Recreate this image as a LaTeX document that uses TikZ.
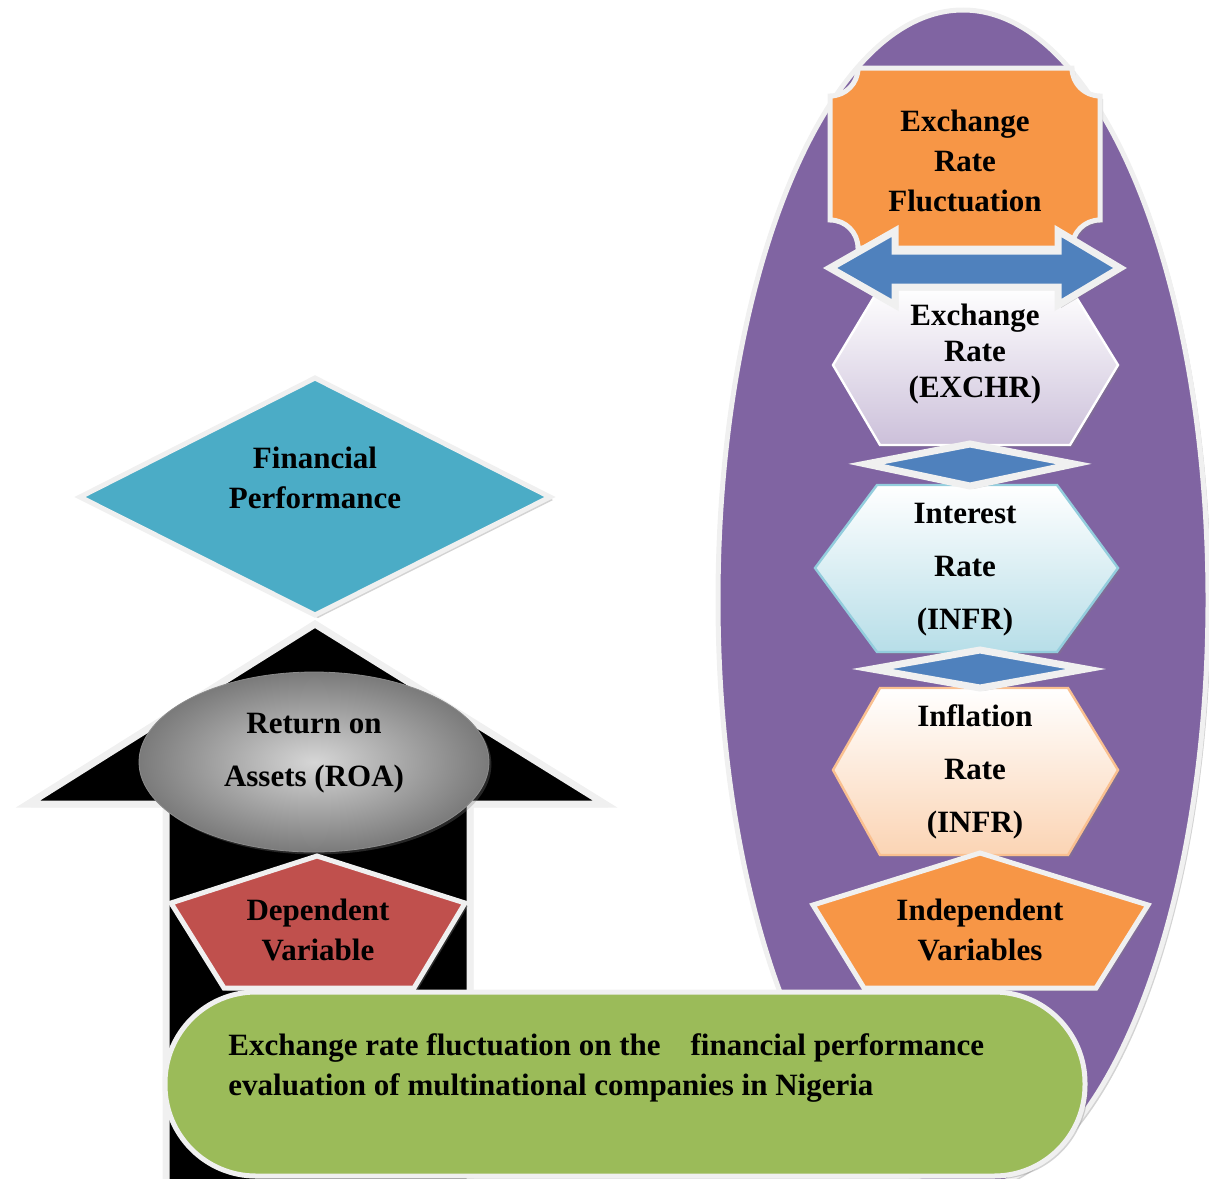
\documentclass[tikz,border=0pt]{standalone}
\usepackage{fontspec}
\setmainfont{Liberation Serif}
\usepackage{tikz}
\usetikzlibrary{shadows}
\definecolor{ovalPurple}{HTML}{8064A2}
\definecolor{fpBlue}{HTML}{4BACC6}
\definecolor{depRed}{HTML}{C0504D}
\definecolor{indOrange}{HTML}{F79646}
\definecolor{linkBlue}{HTML}{4F81BD}
\definecolor{topicGreen}{HTML}{9BBB59}
\definecolor{excLilac}{HTML}{CCC0DA}
\definecolor{intCyan}{HTML}{B7DEE8}
\definecolor{intEdge}{HTML}{93CDDD}
\definecolor{infPeach}{HTML}{FBD4B4}
\definecolor{infEdge}{HTML}{FAC090}
\tikzstyle{node_text} = [align=center, inner sep=0pt, font=\bfseries\fontsize{15.5}{20}\selectfont]
\tikzstyle{shape_plain} = [draw=white!94!black, line width=2.5pt]
\tikzstyle{shape_shadow} = [shape_plain, drop shadow={shadow xshift=1.5pt, shadow yshift=-1.5pt, opacity=0.35}]
\tikzstyle{shape_link} = [shape_shadow, line width=3.5pt, fill=linkBlue]
\tikzstyle{shape_hex} = [line width=1.2pt, drop shadow={shadow xshift=1.2pt, shadow yshift=-1.2pt, opacity=0.3}]

\begin{document}
\begin{tikzpicture}[x=0.5pt, y=-0.5pt]
			\useasboundingbox (0,0) rectangle (1209,1178);
			\clip (0,0) rectangle (1209,1178);

			\draw[shape_shadow, fill=ovalPurple] (963,600) ellipse [x radius=245, y radius=590];

			\draw[shape_shadow, line width=3.5pt, fill=black] (315,624) -- (605,804) -- (470,804) -- (470,1190) -- (166,1190) -- (166,804) -- (28,804) -- cycle;
			\draw[shape_shadow, fill=fpBlue] (315,378) -- (550,497) -- (315,615) -- (80,497) -- cycle;
			\draw[drop shadow={shadow xshift=1.2pt, shadow yshift=-1.2pt, opacity=0.3}, draw=black!45, inner color=black!16, outer color=black!52] (314,762) ellipse [x radius=175, y radius=90];
			\draw[shape_shadow, fill=depRed] (317,856) -- (465,903) -- (414,988) -- (224,988) -- (171,903) -- cycle;

			\draw[shape_shadow, fill=indOrange] (858,68) -- (1072,68) .. controls (1072,83.5) and (1084.5,96) .. (1100,96) -- (1100,220) .. controls (1084.5,220) and (1072,232.5) .. (1072,248) -- (858,248) .. controls (858,232.5) and (845.5,220) .. (830,220) -- (830,96) .. controls (845.5,96) and (858,83.5) .. (858,68) -- cycle;
			\draw[shape_hex, draw=white, top color=white, bottom color=excLilac] (833,365) -- (880,287) -- (1070,287) -- (1118,365) -- (1070,445) -- (880,445) -- cycle;
			\draw[shape_hex, draw=intEdge, top color=white, bottom color=intCyan] (815,568) -- (877,485) -- (1057,485) -- (1118,568) -- (1057,652) -- (877,652) -- cycle;
			\draw[shape_hex, draw=infEdge, top color=white, bottom color=infPeach] (833,770) -- (880,688) -- (1068,688) -- (1118,770) -- (1068,855) -- (880,855) -- cycle;
			\draw[shape_link] (866,464) -- (970,444) -- (1074,464) -- (970,486) -- cycle;
			\draw[shape_link] (872,669) -- (980,650) -- (1086,669) -- (980,688) -- cycle;
			\draw[shape_link] (830,268) -- (895,231) -- (895,251) -- (1058,251) -- (1058,231) -- (1120,268) -- (1058,305) -- (1058,287) -- (895,287) -- (895,305) -- cycle;
			\draw[shape_shadow, fill=indOrange] (980,853) -- (1148,905) -- (1096,988) -- (864,988) -- (813,905) -- cycle;

			\draw[shape_shadow, fill=topicGreen, rounded corners=45.5pt] (165,992) rectangle (1085,1176);

			\node (FP) at (315,478) [node_text] {Financial\\Performance};
			\node (ROA) at (314,753) [node_text] {Return on\\[6.5pt]Assets (ROA)};
			\node (DV) at (318,930) [node_text] {Dependent\\Variable};
			\node (ERF) at (965,161) [node_text] {Exchange\\Rate\\Fluctuation};
			\node (EXCHR) at (975,354) [node_text] {Exchange\\[-2pt]Rate\\[-2pt](EXCHR)};
			\node (INTR) at (965,570) [node_text] {Interest\\[6.5pt]Rate\\[6.5pt](INFR)};
			\node (INFR) at (975,772) [node_text] {Inflation\\[6.5pt]Rate\\[6.5pt](INFR)};
			\node (IV) at (980,930) [node_text] {Independent\\Variables};
			\node (TOPIC) at (228,1067.5) [node_text, anchor=west, align=left] {Exchange rate fluctuation on the\hspace{15pt}financial performance\\evaluation of multinational companies in Nigeria};
		\end{tikzpicture}
\end{document}
